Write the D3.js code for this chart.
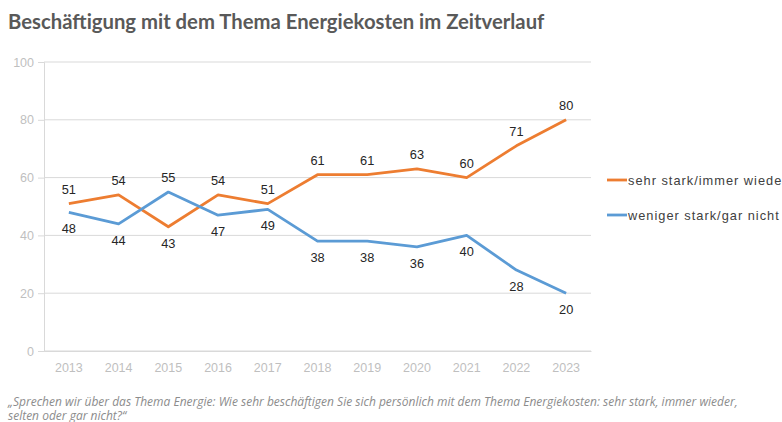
<!DOCTYPE html>
<html>
<head>
<meta charset="utf-8">
<script src="https://cdn.jsdelivr.net/npm/d3@7"></script>
<style>
  body { margin: 0; background: #fff; }
  svg { display: block; }
</style>
</head>
<body>
<svg id="chart" width="782" height="422"></svg>
<script>
var years = ['2013', '2014', '2015', '2016', '2017', '2018', '2019', '2020', '2021', '2022', '2023'];
var starkValues = [51, 54, 43, 54, 51, 61, 61, 63, 60, 71, 80];
var wenigerValues = [48, 44, 55, 47, 49, 38, 38, 36, 40, 28, 20];
var seriesNames = ['sehr stark/immer wieder', 'weniger stark/gar nicht'];
var yTicks = [0, 20, 40, 60, 80, 100];

var colors = ['#ED7D31', '#5B9BD5'];

var svg = d3.select('#chart');

var x = d3.scaleBand()
	.domain(years)
	.range([44, 591]);

var y = d3.scaleLinear()
	.domain([0, 100])
	.range([351, 62]);

// title
svg.append('text')
	.attr('x', 8)
	.attr('y', 29)
	.attr('fill', '#595959')
	.style('font-family', 'Lato, "Open Sans", sans-serif')
	.style('font-size', '20.3px')
	.style('font-weight', 'bold')
	.text('Beschäftigung mit dem Thema Energiekosten im Zeitverlauf');

// gridlines
svg.append('g')
	.selectAll('line')
		.data(yTicks)
	.enter()
	.append('line')
		.attr('x1', 44)
		.attr('x2', 591)
		.attr('y1', d => y(d))
		.attr('y2', d => y(d))
		.attr('stroke', '#d9d9d9')
		.attr('stroke-width', 1);

// y axis
var yAxis = svg.append('g')
	.attr('transform', 'translate(44,0)')
	.call(d3.axisLeft(y).tickValues(yTicks).tickSize(6).tickPadding(4));

yAxis.select('.domain').attr('stroke', '#d9d9d9');
yAxis.selectAll('.tick line').attr('stroke', '#d9d9d9');
yAxis.selectAll('text')
	.attr('fill', '#bfbfbf')
	.style('font-family', '"Liberation Sans", Arial, sans-serif')
	.style('font-size', '12.5px');

// x axis
var xAxis = svg.append('g')
	.attr('transform', 'translate(0,351)')
	.call(d3.axisBottom(x).tickSize(0).tickPadding(12));

xAxis.select('.domain').attr('stroke', '#d9d9d9');
xAxis.selectAll('text')
	.attr('fill', '#bfbfbf')
	.style('font-family', '"Liberation Sans", Arial, sans-serif')
	.style('font-size', '12.5px');

var series = [starkValues, wenigerValues];

var line = d3.line()
	.x((d, i) => x(years[i]) + x.bandwidth() / 2)
	.y(d => y(d));

svg.append('g')
	.selectAll('path')
		.data(series)
	.enter()
	.append('path')
		.attr('d', d => line(d))
		.attr('fill', 'none')
		.attr('stroke', (d, i) => colors[i])
		.attr('stroke-width', 2.8)
		.attr('stroke-linejoin', 'round');

// data labels: higher value above, lower value below
var labelGroup = svg.append('g')
	.style('font-family', '"Liberation Sans", Arial, sans-serif')
	.style('font-size', '12.8px')
	.attr('fill', '#262626');

series.forEach(function(vals, s){
	var other = series[1 - s];
	labelGroup.selectAll('text.s' + s)
		.data(vals)
	.enter()
	.append('text')
		.attr('class', 's' + s)
		.attr('text-anchor', 'middle')
		.attr('x', (d, i) => x(years[i]) + x.bandwidth() / 2)
		.attr('y', (d, i) => d >= other[i] ? y(d) - 10 : y(d) + 21)
		.text(d => d);
});

// legend
var legend = svg.append('g')
	.selectAll('g')
		.data(seriesNames)
	.enter()
	.append('g')
		.attr('transform', (d, i) => 'translate(607,' + (180 + i * 35) + ')');

legend.append('line')
	.attr('x1', 0)
	.attr('x2', 20)
	.attr('stroke', (d, i) => colors[i])
	.attr('stroke-width', 2.8);

legend.append('text')
	.attr('x', 21)
	.attr('y', 4.5)
	.attr('fill', '#404040')
	.style('font-family', '"Liberation Sans", Arial, sans-serif')
	.style('font-size', '12.8px')
	.style('letter-spacing', '1px')
	.text(d => d);

// footnote
var note = svg.append('text')
	.attr('fill', '#8c8c8c')
	.style('font-family', '"Open Sans", sans-serif')
	.style('font-size', '12px')
	.style('font-style', 'italic');

note.append('tspan')
	.attr('x', 8)
	.attr('y', 406)
	.text('„Sprechen wir über das Thema Energie: Wie sehr beschäftigen Sie sich persönlich mit dem Thema Energiekosten: sehr stark, immer wieder,');

note.append('tspan')
	.attr('x', 8)
	.attr('y', 420)
	.text('selten oder gar nicht?“');
</script>
</body>
</html>
